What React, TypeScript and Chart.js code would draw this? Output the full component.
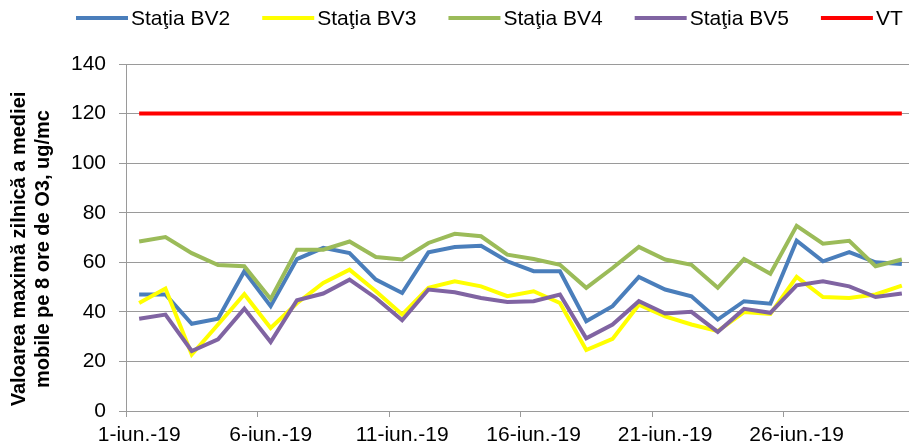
import React, { useEffect, useRef } from "react";
import { Chart, registerables } from "chart.js";

Chart.register(...registerables);

const categories: string[] = [
  "1-iun.-19", "2-iun.-19", "3-iun.-19", "4-iun.-19", "5-iun.-19",
  "6-iun.-19", "7-iun.-19", "8-iun.-19", "9-iun.-19", "10-iun.-19",
  "11-iun.-19", "12-iun.-19", "13-iun.-19", "14-iun.-19", "15-iun.-19",
  "16-iun.-19", "17-iun.-19", "18-iun.-19", "19-iun.-19", "20-iun.-19",
  "21-iun.-19", "22-iun.-19", "23-iun.-19", "24-iun.-19", "25-iun.-19",
  "26-iun.-19", "27-iun.-19", "28-iun.-19", "29-iun.-19", "30-iun.-19",
];

const bv2: number[] = [
  47.0, 47.0, 35.2, 37.2, 56.4, 42.3, 61.3, 65.8, 63.7, 53.0,
  47.6, 64.0, 66.2, 66.7, 60.4, 56.4, 56.4, 36.2, 42.3, 54.1,
  49.0, 46.3, 36.9, 44.3, 43.3, 68.7, 60.4, 64.1, 60.0, 59.3,
];

const bv3: number[] = [
  43.6, 49.4, 22.8, 34.9, 47.1, 33.5, 43.5, 51.7, 57.0, 48.3,
  38.9, 49.7, 52.3, 50.3, 46.3, 48.3, 43.6, 24.6, 29.1, 42.9,
  38.2, 34.9, 32.2, 39.9, 39.2, 54.1, 46.0, 45.6, 47.0, 50.6,
];

const bv4: number[] = [
  68.4, 70.2, 63.7, 58.9, 58.4, 45.2, 65.1, 65.1, 68.4, 62.1,
  61.1, 67.8, 71.5, 70.5, 63.1, 61.3, 59.0, 49.7, 57.7, 66.2,
  61.1, 59.0, 49.7, 61.3, 55.4, 74.7, 67.5, 68.7, 58.4, 61.1,
];

const bv5: number[] = [
  37.2, 38.9, 24.2, 28.9, 41.3, 27.8, 44.7, 47.4, 53.0, 45.6,
  36.6, 49.0, 47.9, 45.6, 44.0, 44.3, 47.0, 29.3, 34.9, 44.3,
  39.3, 40.0, 31.9, 41.2, 39.6, 50.7, 52.3, 50.3, 46.0, 47.4,
];

const vt: number[] = [
  120, 120, 120, 120, 120, 120, 120, 120, 120, 120,
  120, 120, 120, 120, 120, 120, 120, 120, 120, 120,
  120, 120, 120, 120, 120, 120, 120, 120, 120, 120,
];

const seriesLabels: string[] = ["Staţia BV2", "Staţia BV3", "Staţia BV4", "Staţia BV5", "VT"];
const seriesColors: string[] = ["#4A7EBB", "#FFFF00", "#9BBB59", "#8064A2", "#FF0000"];
const yTitleLines: string[] = ["Valoarea maximă zilnică a mediei", "mobile pe 8 ore de O3, ug/mc"];

const FONT = "'Liberation Sans', Arial, sans-serif";
const GRID = "#9a9a9a";

const legendPlugin = {
  id: "excelLegend",
  afterDraw(chart: any) {
    const ctx = chart.ctx as CanvasRenderingContext2D;
    ctx.save();
    ctx.font = `21px ${FONT}`;
    ctx.textBaseline = "middle";
    ctx.textAlign = "left";
    let x = 76;
    const y = 18;
    chart.data.datasets.forEach((ds: any) => {
      ctx.strokeStyle = ds.borderColor;
      ctx.lineWidth = 4;
      ctx.lineCap = "butt";
      ctx.beginPath();
      ctx.moveTo(x, y);
      ctx.lineTo(x + 52, y);
      ctx.stroke();
      ctx.fillStyle = "#000000";
      ctx.fillText(ds.label, x + 55, y + 1);
      x += 55 + ctx.measureText(ds.label).width + 32;
    });
    ctx.restore();
  },
};

const yTitlePlugin = {
  id: "yTitle",
  afterDraw(chart: any) {
    const ctx = chart.ctx as CanvasRenderingContext2D;
    ctx.save();
    ctx.font = `bold 20px ${FONT}`;
    ctx.fillStyle = "#000000";
    ctx.textAlign = "center";
    ctx.textBaseline = "middle";
    ctx.translate(19, 249);
    ctx.rotate(-Math.PI / 2);
    yTitleLines.forEach((line, i) => ctx.fillText(line, 0, i * 24));
    ctx.restore();
  },
};

export default function App() {
  const canvasRef = useRef<HTMLCanvasElement | null>(null);

  useEffect(() => {
    if (!canvasRef.current) return;
    const seriesData = [bv2, bv3, bv4, bv5, vt];
    const chart = new Chart(canvasRef.current, {
      type: "line",
      data: {
        labels: categories,
        datasets: seriesData.map((d, i) => ({
          label: seriesLabels[i],
          data: d,
          borderColor: seriesColors[i],
          backgroundColor: seriesColors[i],
          borderWidth: 4,
          pointRadius: 0,
          pointHoverRadius: 0,
          tension: 0,
          fill: false,
          order: seriesData.length - i,
        })),
      },
      options: {
        responsive: false,
        animation: false,
        events: [],
        layout: { padding: { top: 64, left: 0, right: 0, bottom: 0 } },
        plugins: {
          legend: { display: false },
          tooltip: { enabled: false },
        },
        scales: {
          x: {
            type: "category",
            offset: true,
            afterFit: (scale: any) => {
              scale.height = 35;
            },
            grid: {
              offset: true,
              drawOnChartArea: false,
              drawTicks: true,
              tickLength: 6,
              color: (ctx: any) => (ctx.index % 5 === 0 ? GRID : "rgba(0,0,0,0)"),
            },
            border: { display: true, color: GRID, width: 1 },
            ticks: {
              autoSkip: false,
              maxRotation: 0,
              minRotation: 0,
              padding: 6,
              color: "#000000",
              font: { family: FONT, size: 21 },
              callback: (_v: any, index: number) => (index % 5 === 0 ? categories[index] : ""),
            },
          },
          y: {
            min: 0,
            max: 140,
            afterFit: (scale: any) => {
              scale.width = 126;
            },
            grid: {
              color: GRID,
              lineWidth: 1,
              drawTicks: true,
              tickLength: 7,
            },
            border: { display: true, color: GRID, width: 1 },
            ticks: {
              stepSize: 20,
              padding: 13,
              color: "#000000",
              font: { family: FONT, size: 21 },
            },
          },
        },
      },
      plugins: [legendPlugin, yTitlePlugin],
    });
    return () => chart.destroy();
  }, []);

  return (
    <div style={{ position: "absolute", left: 0, top: 0, width: 909, height: 446, overflow: "hidden", background: "#ffffff" }}>
      <canvas ref={canvasRef} width={915} height={446} style={{ display: "block" }} />
    </div>
  );
}
